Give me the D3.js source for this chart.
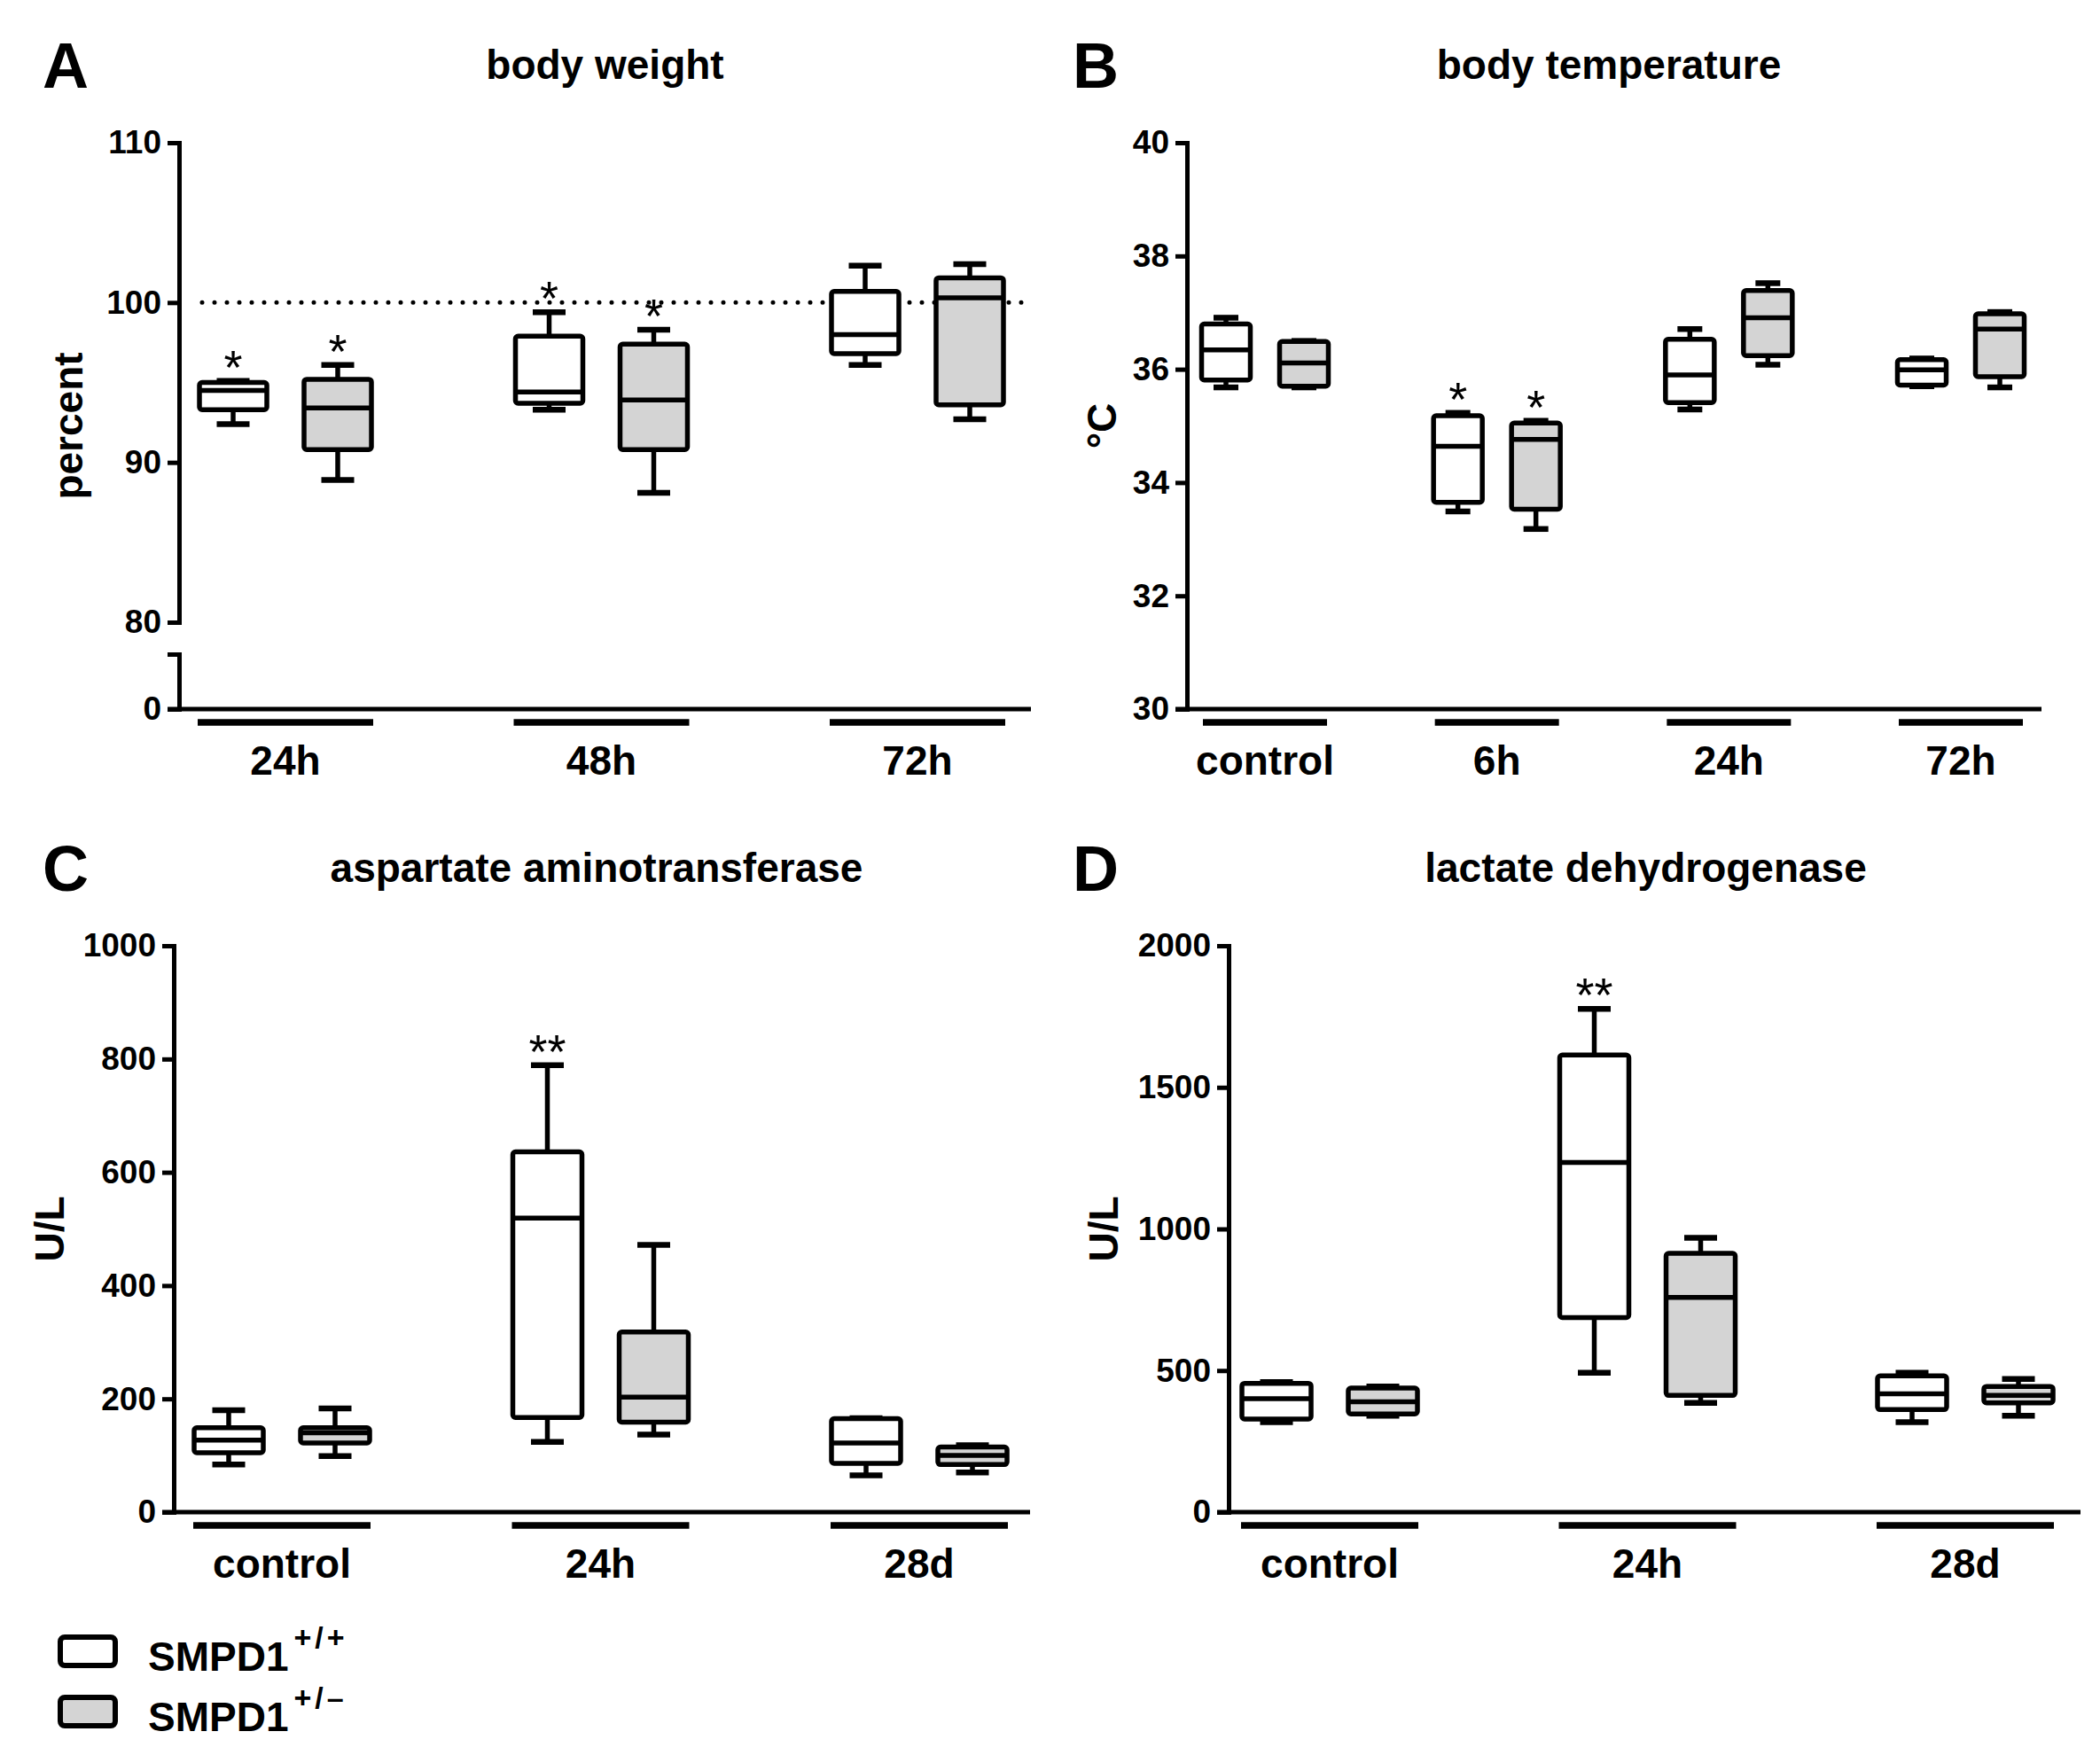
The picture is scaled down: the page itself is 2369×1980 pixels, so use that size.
<!DOCTYPE html>
<html>
<head>
<meta charset="utf-8">
<script src="https://cdn.jsdelivr.net/npm/d3@7"></script>
<style>
  body { margin: 0; background: #fff; }
  svg { display: block; }
</style>
</head>
<body>
<svg id="chart"></svg>
<script>
// box values are [min, q1, median, q3, max]

// A - body weight
const weightGroups = ["24h", "48h", "72h"];
const weightWT = [[92.4, 93.3, 94.5, 95.0, 95.1], [93.3, 93.7, 94.4, 97.9, 99.4], [96.1, 96.8, 98.0, 100.7, 102.3]];
const weightHet = [[88.9, 90.8, 93.4, 95.2, 96.1], [88.1, 90.8, 93.9, 97.4, 98.3], [92.7, 93.6, 100.3, 101.55, 102.4]];
const weightStarsWT = ["*", "*", ""];
const weightStarsHet = ["*", "*", ""];
const weightTicks = [80, 90, 100, 110];

// B - body temperature
const tempGroups = ["control", "6h", "24h", "72h"];
const tempWT = [[35.68, 35.81, 36.34, 36.80, 36.91], [33.49, 33.65, 34.64, 35.18, 35.23], [35.29, 35.41, 35.90, 36.53, 36.71], [35.70, 35.72, 35.99, 36.17, 36.19]];
const tempHet = [[35.68, 35.70, 36.11, 36.49, 36.50], [33.18, 33.53, 34.76, 35.05, 35.09], [36.08, 36.24, 36.91, 37.39, 37.52], [35.68, 35.87, 36.71, 36.98, 37.01]];
const tempStarsWT = ["", "*", "", ""];
const tempStarsHet = ["", "*", "", ""];
const tempTicks = [30, 32, 34, 36, 38, 40];

// C - aspartate aminotransferase
const astGroups = ["control", "24h", "28d"];
const astWT = [[84, 105, 127, 149, 180], [124, 167, 519, 636, 789], [65, 86, 122, 165, 166]];
const astHet = [[99, 122, 140, 149, 183], [137, 159, 203, 318, 472], [70, 84, 100, 115, 118]];
const astStarsWT = ["", "**", ""];
const astStarsHet = ["", "", ""];
const astTicks = [0, 200, 400, 600, 800, 1000];

// D - lactate dehydrogenase
const ldhGroups = ["control", "24h", "28d"];
const ldhWT = [[318, 329, 401, 455, 459], [492, 687, 1235, 1614, 1777], [318, 362, 418, 481, 492]];
const ldhHet = [[340, 347, 390, 438, 444], [386, 412, 758, 914, 969], [340, 386, 412, 444, 470]];
const ldhStarsWT = ["", "**", ""];
const ldhStarsHet = ["", "", ""];
const ldhTicks = [0, 500, 1000, 1500, 2000];

const seriesNames = ["SMPD1", "SMPD1"];
const seriesSup = ["+/+", "+/\u2013"];
const seriesFill = ["#ffffff", "#d4d4d4"];

const FONT = "'Liberation Sans', Arial, Helvetica, sans-serif";
const W = 2369, H = 1980;

const svg = d3.select("#chart").attr("width", W).attr("height", H)
  .style("font-family", FONT);

svg.append("rect").attr("width", W).attr("height", H).attr("fill", "#fff");

function styleAxis(g) {
  g.select(".domain").attr("stroke", "#000").attr("stroke-width", 5).attr("stroke-linecap", "square");
  g.selectAll(".tick line").attr("stroke", "#000").attr("stroke-width", 5);
  g.selectAll(".tick text").attr("fill", "#000")
    .style("font-size", "37px").style("font-weight", "bold").style("font-family", FONT);
}

function drawPanel(p) {
  const g = svg.append("g");

  const y = d3.scaleLinear().domain(p.domain).range([p.plotBottom, p.top]);
  const x = d3.scalePoint().domain(p.groups).range([p.x0 + p.inL, p.x1 - p.inR]);

  // panel letter and title
  g.append("text").attr("x", p.letterX).attr("y", p.top - 62)
    .style("font-size", "72px").style("font-weight", "bold").text(p.letter);
  g.append("text").attr("x", (p.x0 + p.x1) / 2 + (p.titleDx || 0)).attr("y", p.top - 72)
    .attr("text-anchor", "middle")
    .style("font-size", "46px").style("font-weight", "bold").text(p.title);

  // y axis
  const ya = g.append("g").attr("transform", `translate(${p.x0},0)`)
    .call(d3.axisLeft(y).tickValues(p.ticks).tickSizeInner(13).tickSizeOuter(0).tickPadding(7).tickFormat(d3.format("d")));
  styleAxis(ya);

  if (p.lowTop) {
    // broken axis: small segment down to zero
    const yLow = d3.scaleLinear().domain([0, 10]).range([p.axisY, p.lowTop]);
    const yl = g.append("g").attr("transform", `translate(${p.x0},0)`)
      .call(d3.axisLeft(yLow).tickValues([0, 10]).tickSizeInner(13).tickSizeOuter(0).tickPadding(7)
        .tickFormat(d => d === 0 ? "0" : ""));
    styleAxis(yl);
  }

  // x axis line
  g.append("line").attr("x1", p.x0 - 13).attr("x2", p.x1)
    .attr("y1", p.axisY).attr("y2", p.axisY)
    .attr("stroke", "#000").attr("stroke-width", 5);

  // y label
  g.append("text")
    .attr("transform", `translate(${p.ylabX},${(p.top + p.axisY) / 2}) rotate(-90)`)
    .attr("text-anchor", "middle")
    .style("font-size", "46px").style("font-weight", "bold").text(p.ylab);

  // reference line
  if (p.refLine !== undefined) {
    g.append("line").attr("x1", p.x0 + 26).attr("x2", p.x1)
      .attr("y1", y(p.refLine)).attr("y2", y(p.refLine))
      .attr("stroke", "#000").attr("stroke-width", 5)
      .attr("stroke-linecap", "round").attr("stroke-dasharray", "0,14");
  }

  // group bars and labels
  g.selectAll(".gbar").data(p.groups).enter().append("line")
    .attr("x1", d => x(d) - p.barW / 2).attr("x2", d => x(d) + p.barW / 2)
    .attr("y1", p.axisY + 15).attr("y2", p.axisY + 15)
    .attr("stroke", "#000").attr("stroke-width", 7.5);
  g.selectAll(".glab").data(p.groups).enter().append("text")
    .attr("x", d => x(d)).attr("y", p.axisY + 74)
    .attr("text-anchor", "middle")
    .style("font-size", "46px").style("font-weight", "bold").text(d => d);

  // boxes
  const series = [
    { vals: p.wt, stars: p.starsWT, off: -p.boxOff, fill: seriesFill[0] },
    { vals: p.het, stars: p.starsHet, off: p.boxOff, fill: seriesFill[1] }
  ];
  series.forEach(s => {
    const items = p.groups.map((grp, i) => ({ grp, v: s.vals[i], star: s.stars[i] }));
    const bx = g.selectAll(null).data(items).enter().append("g")
      .attr("transform", d => `translate(${x(d.grp) + s.off},0)`);

    // whiskers
    bx.append("line").attr("x1", 0).attr("x2", 0)
      .attr("y1", d => y(d.v[4])).attr("y2", d => y(d.v[3]))
      .attr("stroke", "#000").attr("stroke-width", 5.5);
    bx.append("line").attr("x1", 0).attr("x2", 0)
      .attr("y1", d => y(d.v[0])).attr("y2", d => y(d.v[1]))
      .attr("stroke", "#000").attr("stroke-width", 5.5);
    // caps
    bx.append("line").attr("x1", -p.capW / 2).attr("x2", p.capW / 2)
      .attr("y1", d => y(d.v[4])).attr("y2", d => y(d.v[4]))
      .attr("stroke", "#000").attr("stroke-width", 6.5);
    bx.append("line").attr("x1", -p.capW / 2).attr("x2", p.capW / 2)
      .attr("y1", d => y(d.v[0])).attr("y2", d => y(d.v[0]))
      .attr("stroke", "#000").attr("stroke-width", 6.5);
    // box
    bx.append("rect").attr("x", -p.boxW / 2).attr("width", p.boxW)
      .attr("y", d => y(d.v[3])).attr("height", d => y(d.v[1]) - y(d.v[3]))
      .attr("rx", 3)
      .attr("fill", s.fill).attr("stroke", "#000").attr("stroke-width", 5.5)
      .attr("stroke-linejoin", "round");
    // median
    bx.append("line").attr("x1", -p.boxW / 2).attr("x2", p.boxW / 2)
      .attr("y1", d => y(d.v[2])).attr("y2", d => y(d.v[2]))
      .attr("stroke", "#000").attr("stroke-width", 5.5);
    // significance
    bx.append("text").attr("x", 0).attr("y", d => y(d.v[4]) + 3)
      .attr("text-anchor", "middle")
      .style("font-size", "54px").style("font-weight", "normal")
      .text(d => d.star);
  });
}

drawPanel({
  letter: "A", letterX: 48, title: "body weight", ylab: "percent", ylabX: 93,
  groups: weightGroups, wt: weightWT, het: weightHet, starsWT: weightStarsWT, starsHet: weightStarsHet,
  domain: [80, 110], ticks: weightTicks, refLine: 100,
  x0: 202, x1: 1163, inL: 120, inR: 128, top: 161, plotBottom: 702, axisY: 800, lowTop: 738,
  boxOff: 59, boxW: 76, capW: 37, barW: 198
});

drawPanel({
  letter: "B", letterX: 1210, title: "body temperature", ylab: "\u00B0C", ylabX: 1259,
  groups: tempGroups, wt: tempWT, het: tempHet, starsWT: tempStarsWT, starsHet: tempStarsHet,
  domain: [30, 40], ticks: tempTicks,
  x0: 1339, x1: 2303, inL: 88, inR: 91, top: 161, plotBottom: 800, axisY: 800,
  boxOff: 44, boxW: 55, capW: 28, barW: 140, titleDx: -6
});

drawPanel({
  letter: "C", letterX: 48, title: "aspartate aminotransferase", ylab: "U/L", ylabX: 72,
  groups: astGroups, wt: astWT, het: astHet, starsWT: astStarsWT, starsHet: astStarsHet,
  domain: [0, 1000], ticks: astTicks,
  x0: 196, x1: 1162, inL: 122, inR: 125, top: 1067, plotBottom: 1706, axisY: 1706,
  boxOff: 60, boxW: 78, capW: 37, barW: 200, titleDx: -6
});

drawPanel({
  letter: "D", letterX: 1210, title: "lactate dehydrogenase", ylab: "U/L", ylabX: 1261,
  groups: ldhGroups, wt: ldhWT, het: ldhHet, starsWT: ldhStarsWT, starsHet: ldhStarsHet,
  domain: [0, 2000], ticks: ldhTicks,
  x0: 1386, x1: 2347, inL: 114, inR: 130, top: 1067, plotBottom: 1706, axisY: 1706,
  boxOff: 60, boxW: 78, capW: 37, barW: 200, titleDx: -10
});

// legend
const legend = svg.append("g");
seriesNames.forEach((name, i) => {
  const cy = 1863 + i * 68;
  legend.append("rect").attr("x", 68).attr("y", cy - 16).attr("width", 62).attr("height", 32)
    .attr("rx", 5).attr("fill", seriesFill[i]).attr("stroke", "#000").attr("stroke-width", 6);
  const t = legend.append("text").attr("x", 167).attr("y", cy + 22)
    .style("font-size", "46px").style("font-weight", "bold");
  t.append("tspan").text(name);
  t.append("tspan").attr("dy", -26).attr("dx", 6).style("font-size", "34px")
    .style("letter-spacing", "4px").text(seriesSup[i]);
});
</script>
</body>
</html>
